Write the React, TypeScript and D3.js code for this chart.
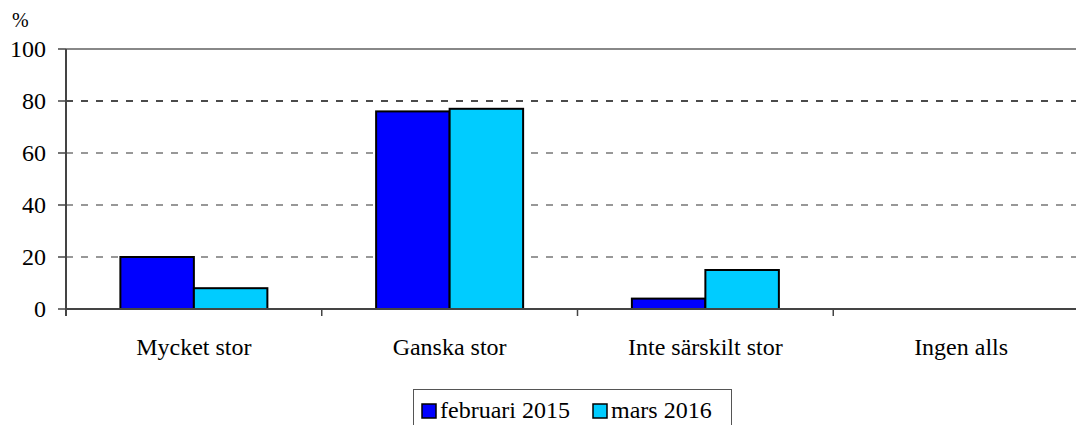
import React from "react";
import * as d3 from "d3";

const categories = ["Mycket stor", "Ganska stor", "Inte särskilt stor", "Ingen alls"];
const seriesNames = ["februari 2015", "mars 2016"];
const feb2015 = [20, 76, 4, 0];
const mars2016 = [8, 77, 15, 0];
const yTicks = [0, 20, 40, 60, 80, 100];
const colors = ["#0000FF", "#00CCFF"];

export default function App() {
  const W = 1076, H = 425;
  const left = 66, right = 1089, top = 49, bottom = 309;
  const x = d3.scaleBand<string>().domain(categories).range([left, right]).paddingInner(0).paddingOuter(0);
  const inner = d3.scaleBand<string>().domain(seriesNames).range([0, 147]);
  const y = d3.scaleLinear().domain([0, 100]).range([bottom, top]);
  const series = [feb2015, mars2016];
  const tf = { fontFamily: "Liberation Serif" };
  const bw = x.bandwidth();
  const off = (bw - 147) / 2;

  return (
    <svg width={W} height={H} style={{ position: "absolute", left: 0, top: 0 }}>
      <rect x={0} y={0} width={W} height={H} fill="#fff" />
      {yTicks.filter(t => t > 0 && t < 100).map(t => (
        <line key={t} x1={left} x2={W} y1={y(t)} y2={y(t)} stroke={t === 80 ? "#111" : "#777"} strokeWidth={1.3} strokeDasharray="7,8" />
      ))}
      <line x1={left} x2={W} y1={y(100)} y2={y(100)} stroke="#888" strokeWidth={2} />
      {series.map((s, si) =>
        categories.map((c, ci) => s[ci] > 0 ? (
          <rect key={si + "-" + ci}
            x={(x(c) as number) + off + (inner(seriesNames[si]) as number)}
            y={y(s[ci])} width={inner.bandwidth()} height={y(0) - y(s[ci])}
            fill={colors[si]} stroke="#000" strokeWidth={2} />
        ) : null)
      )}
      <line x1={left} x2={left} y1={y(100)} y2={y(0) + 7} stroke="#444" strokeWidth={2} />
      <line x1={left} x2={W} y1={y(0)} y2={y(0)} stroke="#444" strokeWidth={2} />
      {yTicks.map(t => (
        <g key={t}>
          <line x1={left - 8} x2={left} y1={y(t)} y2={y(t)} stroke="#444" strokeWidth={1.5} />
          <text x={46} y={y(t)} dy="0.35em" textAnchor="end" fontSize={24} style={tf}>{t}</text>
        </g>
      ))}
      {categories.map((c, i) => (
        <g key={c}>
          {i > 0 && <line x1={x(c) as number} x2={x(c) as number} y1={y(0)} y2={y(0) + 7} stroke="#444" strokeWidth={1.5} />}
          <text x={(x(c) as number) + bw / 2} y={355} textAnchor="middle" fontSize={24} style={tf}>{c}</text>
        </g>
      ))}
      <text x={12} y={27} fontSize={20} style={tf}>%</text>
      <rect x={413.5} y={389.5} width={318} height={40} fill="#fff" stroke="#555" strokeWidth={1} />
      {seriesNames.map((n, i) => {
        const lx = i === 0 ? 422 : 593;
        return (
          <g key={n}>
            <rect x={lx} y={404} width={14} height={14} fill={colors[i]} stroke="#000" strokeWidth={1.5} />
            <text x={lx + 18} y={418} fontSize={24} style={tf}>{n}</text>
          </g>
        );
      })}
    </svg>
  );
}
